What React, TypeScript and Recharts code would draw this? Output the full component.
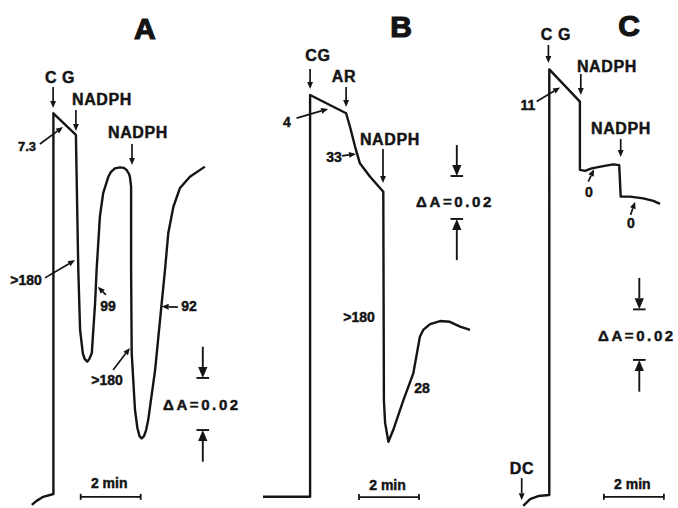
import { LineChart, Line, XAxis, YAxis, ReferenceLine, ReferenceDot } from "recharts";

// time in minutes, absorbance in mA (milli-absorbance units)
const INK = "#141414";
const FONT = "'Liberation Sans', Arial, Helvetica, sans-serif";
const CHART_H = 508;
const ABS_MAX = 200;

// Panel A trace
const timeA = [1.06, 1.22, 1.44, 1.78, 1.78, 2.53, 2.61, 2.67, 2.76, 2.82, 2.91, 2.98, 3.06, 3.17, 3.22, 3.33, 3.44, 3.61, 3.7, 3.83, 4.0, 4.13, 4.22, 4.3, 4.33, 4.37, 4.37, 4.39, 4.5, 4.58, 4.65, 4.72, 4.8, 4.87, 4.94, 5.17, 5.39, 5.5, 5.61, 5.78, 6.0, 6.33, 6.83];
const absA = [1.2, 2.8, 4.4, 5.5, 155.4, 146.9, 93.7, 70.1, 61.0, 58.7, 57.6, 58.7, 61.0, 80.7, 93.7, 114.7, 124.0, 130.4, 132.3, 133.7, 134.1, 133.9, 133.1, 131.5, 130.4, 126.5, 93.7, 61.0, 38.6, 31.5, 28.3, 27.4, 28.3, 30.7, 34.6, 54.3, 80.7, 93.7, 108.3, 118.6, 126.0, 130.4, 134.4];

// Panel B trace
const timeB = [1.1, 2.67, 2.67, 3.87, 4.0, 4.17, 4.33, 4.67, 5.11, 5.13, 5.17, 5.28, 5.44, 5.78, 6.11, 6.33, 6.44, 6.67, 7.0, 7.33, 7.67, 8.0];
const absB = [4.4, 4.4, 162.6, 155.4, 150.1, 142.2, 135.7, 130.4, 124.5, 42.5, 33.5, 26.1, 30.7, 42.5, 53.0, 67.4, 70.1, 72.4, 73.6, 73.3, 71.4, 70.1];

// Panel C trace
const timeC = [1.44, 1.67, 1.94, 2.31, 2.31, 3.33, 3.33, 3.5, 3.72, 4.11, 4.44, 4.64, 4.69, 5.0, 5.44, 5.78, 6.0];
const absC = [0.8, 3.5, 4.7, 5.1, 172.7, 160.0, 133.1, 132.7, 133.7, 134.6, 135.3, 135.0, 122.6, 122.6, 121.9, 120.9, 119.7];

// annotations: [text, time, abs, kind]
const labelsA = [
  ["A", 4.83, 188.6, "title"],
  ["C G", 2.0, 169.3, "tag"],
  ["NADPH", 3.4, 161.0, "tag"],
  ["7.3", 0.9, 142.5, "small"],
  ["NADPH", 4.6, 148.0, "tag"],
  [">180", 0.87, 89.8, "value"],
  ["99", 3.6, 79.5, "value"],
  ["92", 6.3, 79.5, "value"],
  [">180", 3.57, 50.4, "value"],
];
const labelsB = [
  ["B", 5.7, 189.4, "title"],
  ["CG", 2.93, 178.0, "tag"],
  ["AR", 3.8, 169.7, "tag"],
  ["4", 1.9, 152.0, "value"],
  ["NADPH", 5.33, 144.9, "tag"],
  ["33", 3.47, 138.2, "value"],
  [">180", 4.3, 75.2, "value"],
  ["28", 6.4, 47.2, "value"],
];
const labelsC = [
  ["C", 4.97, 189.8, "title"],
  ["C G", 2.53, 186.6, "tag"],
  ["NADPH", 4.23, 174.0, "tag"],
  ["11", 1.6, 158.7, "value"],
  ["NADPH", 4.7, 149.6, "tag"],
  ["0", 3.63, 124.4, "value"],
  ["0", 5.03, 112.2, "value"],
  ["DC", 1.4, 15.7, "tag"],
];

// arrows: [tailTime, tailAbs, headTime, headAbs]
const arrowsA = [
  [1.77, 165.7, 1.77, 157.5],
  [2.53, 156.7, 2.53, 148.4],
  [1.33, 143.3, 2.1, 150.0],
  [4.4, 143.3, 4.4, 135.0],
  [1.5, 90.6, 2.5, 97.6],
  [3.53, 83.9, 3.26, 87.1],
  [5.93, 79.1, 5.39, 79.3],
  [3.77, 54.3, 4.33, 63.0],
];
const arrowsB = [
  [2.67, 172.8, 2.67, 165.0],
  [3.87, 165.7, 3.87, 157.9],
  [2.22, 153.5, 3.27, 157.1],
  [5.1, 141.3, 5.1, 128.0],
  [3.73, 138.6, 4.2, 139.4],
];
const arrowsC = [
  [2.28, 182.3, 2.28, 175.2],
  [3.36, 170.9, 3.36, 162.6],
  [1.89, 160.0, 2.67, 165.6],
  [4.69, 145.3, 4.69, 138.2],
  [3.61, 128.5, 3.8, 133.4],
  [5.02, 115.4, 5.17, 120.6],
  [1.39, 11.8, 1.39, 3.1],
];

// ΔA scale: [time, topTail, topBar, bottomBar, bottomTail, textTime, textAbs]
const scaleA = [6.76, 63.5, 51.2, 30.7, 18.2, 6.73, 40.9];
const scaleB = [7.56, 142.9, 130.7, 113.8, 97.6, 7.5, 120.5];
const scaleC = [5.31, 90.6, 78.2, 58.3, 45.8, 5.23, 68.1];

// 2 min bar: [start, end, abs, textAbs]
const timeBarA = [2.69, 4.69, 4.4, 9.8];
const timeBarB = [4.3, 6.3, 4.3, 9.1];
const timeBarC = [4.13, 6.13, 4.4, 9.4];

const sizes: Record<string, number> = { title: 30, tag: 16, value: 14, small: 13 };

const textShape = (text: string, size: number, spacing = 0) => (p: any) => (
  <text
    x={p.cx}
    y={p.cy}
    textAnchor="middle"
    dominantBaseline="central"
    fontFamily={FONT}
    fontWeight={700}
    fontSize={size}
    letterSpacing={spacing}
    fill={INK}
    stroke={INK}
    strokeWidth={size > 20 ? 1.2 : 0.45}
  >
    {text}
  </text>
);

const arrowShape = (head: number, width = 1.7) => (p: any) => {
  const { x1, y1, x2, y2 } = p;
  const dx = x2 - x1;
  const dy = y2 - y1;
  const len = Math.hypot(dx, dy) || 1;
  const ux = dx / len;
  const uy = dy / len;
  const bx = x2 - ux * head;
  const by = y2 - uy * head;
  const w = head * 0.42;
  return (
    <g>
      <line x1={x1} y1={y1} x2={bx} y2={by} stroke={INK} strokeWidth={width} />
      <polygon
        points={`${x2},${y2} ${bx - uy * w},${by + ux * w} ${bx + uy * w},${by - ux * w}`}
        fill={INK}
      />
    </g>
  );
};

const timeBarShape = (p: any) => (
  <g stroke={INK} strokeWidth={1.8}>
    <line x1={p.x1} y1={p.y1} x2={p.x2} y2={p.y2} />
    <line x1={p.x1} y1={p.y1 - 3} x2={p.x1} y2={p.y1 + 3} />
    <line x1={p.x2} y1={p.y2 - 3} x2={p.x2} y2={p.y2 + 3} />
  </g>
);

const zip = (t: number[], a: number[]) => t.map((v, i) => ({ t: v, a: a[i] }));

type PanelProps = {
  left: number;
  width: number;
  time: number[];
  abs: number[];
  labels: any[];
  arrows: number[][];
  scale: number[];
  timeBar: number[];
};

const Panel = ({ left, width, time, abs, labels, arrows, scale, timeBar }: PanelProps) => {
  const [sx, topTail, topBar, botBar, botTail, tx, ty] = scale;
  const [b0, b1, by, bty] = timeBar;
  return (
    <div style={{ position: "absolute", left, top: 0 }}>
      <LineChart width={width} height={CHART_H} margin={{ top: 0, right: 0, bottom: 0, left: 0 }}>
        <XAxis type="number" dataKey="t" domain={[0, width / 30]} hide allowDataOverflow />
        <YAxis type="number" domain={[0, ABS_MAX]} hide allowDataOverflow />
        <Line
          data={zip(time, abs)}
          dataKey="a"
          type="linear"
          stroke={INK}
          strokeWidth={2.4}
          strokeLinejoin="round"
          dot={false}
          activeDot={false}
          legendType="none"
          isAnimationActive={false}
        />
        {arrows.map((r, i) => (
          <ReferenceLine
            key={`ar${i}`}
            segment={[{ x: r[0], y: r[1] }, { x: r[2], y: r[3] }]}
            shape={arrowShape(7)}
          />
        ))}
        <ReferenceLine segment={[{ x: sx, y: topTail }, { x: sx, y: topBar }]} shape={arrowShape(11, 1.9)} />
        <ReferenceLine segment={[{ x: sx, y: botTail }, { x: sx, y: botBar }]} shape={arrowShape(11, 1.9)} />
        <ReferenceLine
          segment={[{ x: sx - 0.21, y: topBar }, { x: sx + 0.21, y: topBar }]}
          stroke={INK}
          strokeWidth={1.9}
        />
        <ReferenceLine
          segment={[{ x: sx - 0.21, y: botBar }, { x: sx + 0.21, y: botBar }]}
          stroke={INK}
          strokeWidth={1.9}
        />
        <ReferenceDot x={tx} y={ty} r={0} shape={textShape("\u0394A=0.02", 15, 2.6)} />
        <ReferenceLine segment={[{ x: b0, y: by }, { x: b1, y: by }]} shape={timeBarShape} />
        <ReferenceDot x={(b0 + b1) / 2 - 0.05} y={bty} r={0} shape={textShape("2 min", 14)} />
        {labels.map((l, i) => (
          <ReferenceDot
            key={`lb${i}`}
            x={l[1]}
            y={l[2]}
            r={0}
            shape={textShape(l[0], sizes[l[3]], l[3] === "tag" ? 0.6 : 0)}
          />
        ))}
      </LineChart>
    </div>
  );
};

export default function App() {
  return (
    <div
      style={{
        position: "absolute",
        left: 0,
        top: 0,
        width: 678,
        height: 508,
        background: "#fff",
        overflow: "hidden",
      }}
    >
      <Panel left={0} width={255} time={timeA} abs={absA} labels={labelsA} arrows={arrowsA} scale={scaleA} timeBar={timeBarA} />
      <Panel left={230} width={270} time={timeB} abs={absB} labels={labelsB} arrows={arrowsB} scale={scaleB} timeBar={timeBarB} />
      <Panel left={480} width={198} time={timeC} abs={absC} labels={labelsC} arrows={arrowsC} scale={scaleC} timeBar={timeBarC} />
    </div>
  );
}
